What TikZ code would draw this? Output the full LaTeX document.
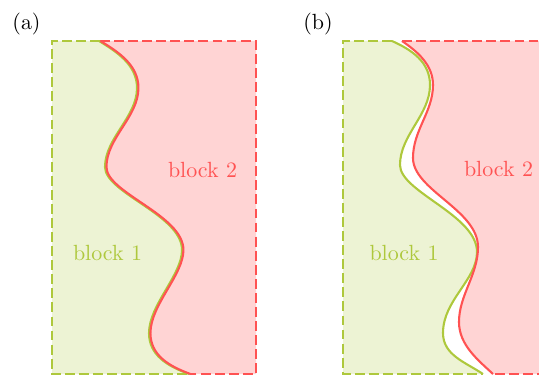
\documentclass[tikz,border=0pt]{standalone}
\definecolor{gline}{RGB}{174,200,60}
\definecolor{rline}{RGB}{255,82,82}
\colorlet{gfill}{gline!22}
\colorlet{rfill}{rline!25}
\tikzset{
  bord/.style={line width=0.9pt, dash pattern=on 4.5pt off 1.9pt},
  wave/.style={line width=0.95pt, line join=round},
  lbl/.style={anchor=base, inner sep=0pt},
}
\begin{document}
\begin{tikzpicture}[x=0.455pt,y=-0.455pt]
\useasboundingbox (0,0) rectangle (539,376);
% ---------------- panel (a) ----------------
\fill[gfill] (52,41) -- (100,41) .. controls (118,52) and (138,65) .. (138,88)
  .. controls (138,117) and (106,138) .. (106,167)
  .. controls (106,193) and (183,215) .. (183,250)
  .. controls (183,275) and (150,305) .. (150,333)
  .. controls (150,355) and (168,366) .. (190,374) -- (52,374) -- cycle;
\fill[rfill] (256,41) -- (100,41) .. controls (118,52) and (138,65) .. (138,88)
  .. controls (138,117) and (106,138) .. (106,167)
  .. controls (106,193) and (183,215) .. (183,250)
  .. controls (183,275) and (150,305) .. (150,333)
  .. controls (150,355) and (168,366) .. (190,374) -- (256,374) -- cycle;
\draw[bord,gline] (100,41) -- (52,41) -- (52,374) -- (190,374);
\draw[bord,rline] (100,41) -- (256,41) -- (256,374) -- (190,374);
\draw[wave,gline,xshift=-0.45pt] (100,41) .. controls (118,52) and (138,65) .. (138,88)
  .. controls (138,117) and (106,138) .. (106,167)
  .. controls (106,193) and (183,215) .. (183,250)
  .. controls (183,275) and (150,305) .. (150,333)
  .. controls (150,355) and (168,366) .. (190,374);
\draw[wave,rline,xshift=0.2pt] (100,41) .. controls (118,52) and (138,65) .. (138,88)
  .. controls (138,117) and (106,138) .. (106,167)
  .. controls (106,193) and (183,215) .. (183,250)
  .. controls (183,275) and (150,305) .. (150,333)
  .. controls (150,355) and (168,366) .. (190,374);
\node[lbl] (la) at (26.5,30) {(a)};
\node[lbl,text=gline] (a1) at (107.5,261) {block 1};
\node[lbl,text=rline] (a2) at (202.5,178) {block 2};
% ---------------- panel (b) ----------------
\fill[gfill] (343,41) -- (392,41) .. controls (412,50) and (430,62) .. (430,85)
  .. controls (430,115) and (400,135) .. (400,165)
  .. controls (400,192) and (477,215) .. (477,252)
  .. controls (477,280) and (443,300) .. (443,333)
  .. controls (443,355) and (465,362) .. (483,374) -- (343,374) -- cycle;
\fill[rfill] (547,41) -- (402,41) .. controls (418,52) and (433,65) .. (433,85)
  .. controls (433,112) and (413,130) .. (413,158)
  .. controls (413,190) and (478,210) .. (478,247)
  .. controls (478,275) and (459,295) .. (459,322)
  .. controls (459,345) and (478,360) .. (493,374) -- (547,374) -- cycle;
\draw[bord,gline] (392,41) -- (343,41) -- (343,374) -- (483,374);
\draw[bord,rline] (402,41) -- (547,41) -- (547,374) -- (493,374);
\draw[wave,gline] (392,41) .. controls (412,50) and (430,62) .. (430,85)
  .. controls (430,115) and (400,135) .. (400,165)
  .. controls (400,192) and (477,215) .. (477,252)
  .. controls (477,280) and (443,300) .. (443,333)
  .. controls (443,355) and (465,362) .. (483,374);
\draw[wave,rline] (402,41) .. controls (418,52) and (433,65) .. (433,85)
  .. controls (433,112) and (413,130) .. (413,158)
  .. controls (413,190) and (478,210) .. (478,247)
  .. controls (478,275) and (459,295) .. (459,322)
  .. controls (459,345) and (478,360) .. (493,374);
\node[lbl] (lb) at (318,30) {(b)};
\node[lbl,text=gline] (b1) at (404,261) {block 1};
\node[lbl,text=rline] (b2) at (498.5,177) {block 2};
\end{tikzpicture}
\end{document}
